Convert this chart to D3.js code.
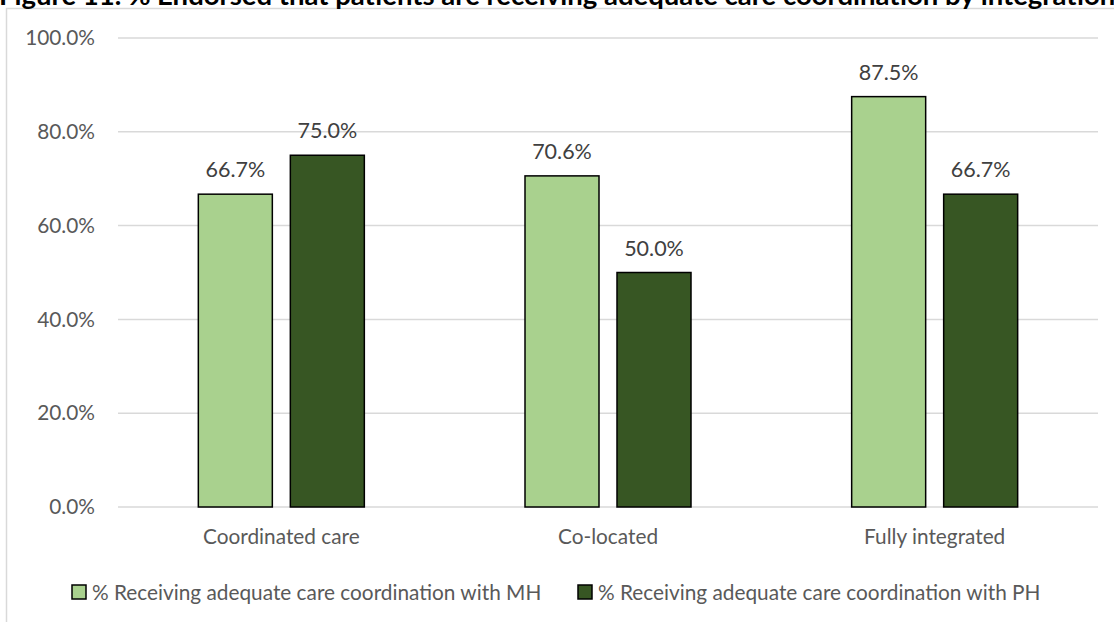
<!DOCTYPE html>
<html><head><meta charset="utf-8">
<script src="https://cdn.jsdelivr.net/npm/d3@7"></script>
<style>body{margin:0;background:#fff}svg{display:block}</style>
</head><body>
<svg id="c" width="1114" height="622"></svg>
<script>
const title = "Figure 11. % Endorsed that patients are receiving adequate care coordination by integration";
const categories = ["Coordinated care", "Co-located", "Fully integrated"];
const seriesNames = ["% Receiving adequate care coordination with MH", "% Receiving adequate care coordination with PH"];
const mhValues = [66.7, 70.6, 87.5];
const phValues = [75.0, 50.0, 66.7];
const yTicks = [0, 20, 40, 60, 80, 100];
const colors = ["#A9D18E", "#375623"];

const font = "Lato, 'Open Sans', sans-serif";
const svg = d3.select("#c");
const W = 1114, H = 622;
const m = {left:118, right:16};

// chart border
svg.append("rect").attr("x",6.5).attr("y",8.5).attr("width",W+10).attr("height",H+10)
  .attr("fill","none").attr("stroke","#d9d9d9").attr("stroke-width",1.5);

// title (partly cropped at the top, as in the reference)
svg.append("text").attr("x",-1).attr("y",5).attr("font-family",font)
  .attr("font-weight","bold").attr("font-size",27.5).attr("fill","#000").text(title);

const x0 = d3.scaleBand().domain(categories).range([m.left, W-m.right]).paddingInner(0).paddingOuter(0);
const y = d3.scaleLinear().domain([0,100]).range([507, 38]);

// gridlines
svg.append("g").selectAll("line").data(yTicks).join("line")
  .attr("x1",m.left).attr("x2",W-m.right).attr("y1",d=>y(d)).attr("y2",d=>y(d))
  .attr("stroke","#d9d9d9").attr("stroke-width",1.5);

// y axis
const yAxis = d3.axisLeft(y).tickValues(yTicks).tickFormat(d=>d.toFixed(1)+"%").tickSize(0).tickPadding(23);
const gy = svg.append("g").attr("transform",`translate(${m.left},0)`).call(yAxis);
gy.select(".domain").remove();
gy.selectAll("text").attr("font-family",font).attr("font-size",20.8).attr("fill","#595959");

const data = categories.map((c,i)=>({cat:c, vals:[mhValues[i], phValues[i]]}));
const barW = 74, gap = 18;
const groupW = barW*2+gap;

const groups = svg.append("g").selectAll("g").data(data).join("g")
  .attr("transform",d=>`translate(${x0(d.cat)+x0.bandwidth()/2-groupW/2},0)`);

groups.selectAll("rect").data(d=>d.vals.map((v,i)=>({v,i}))).join("rect")
  .attr("x",d=>d.i*(barW+gap)).attr("width",barW)
  .attr("y",d=>y(d.v)).attr("height",d=>y(0)-y(d.v))
  .attr("fill",d=>colors[d.i]).attr("stroke","#000").attr("stroke-width",1.5);

groups.selectAll("text.lbl").data(d=>d.vals.map((v,i)=>({v,i}))).join("text")
  .attr("class","lbl")
  .attr("x",d=>d.i*(barW+gap)+barW/2).attr("y",d=>y(d.v)-17)
  .attr("text-anchor","middle").attr("font-family",font).attr("font-size",21.5).attr("fill","#404040")
  .text(d=>d.v.toFixed(1)+"%");

// x axis labels
const xAxis = d3.axisBottom(x0).tickSize(0).tickPadding(22);
const gx = svg.append("g").attr("transform",`translate(0,${y(0)})`).call(xAxis);
gx.select(".domain").remove();
gx.selectAll("text").attr("font-family",font).attr("font-size",20.8).attr("fill","#595959");

// legend
const legX = [72, 578];
const lg = svg.append("g").selectAll("g").data(seriesNames).join("g")
  .attr("transform",(d,i)=>`translate(${legX[i]},585)`);
lg.append("rect").attr("width",14).attr("height",14).attr("fill",(d,i)=>colors[i]).attr("stroke","#000").attr("stroke-width",1.5);
lg.append("text").attr("x",20).attr("y",14.5).attr("font-family",font).attr("font-size",20.8).attr("fill","#595959").text(d=>d);
</script>
</body></html>
